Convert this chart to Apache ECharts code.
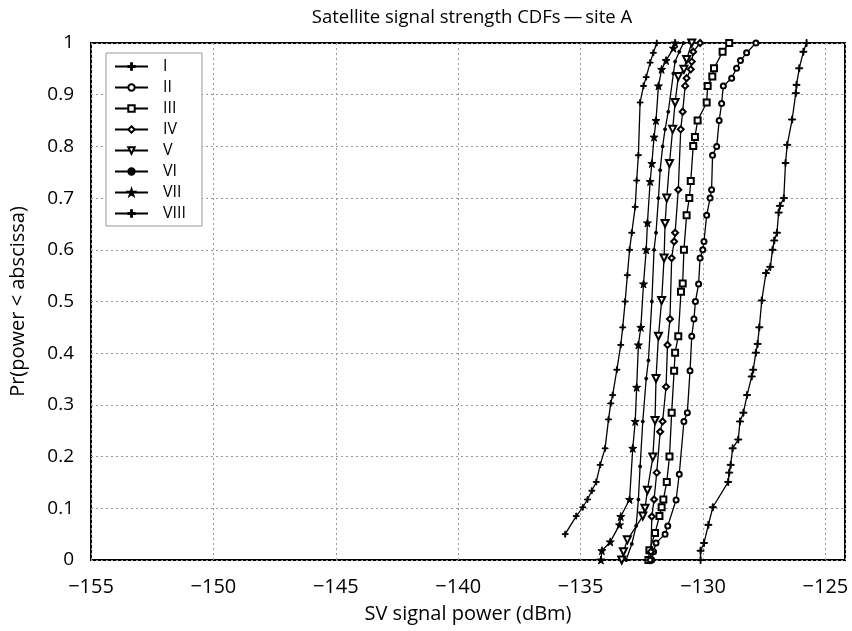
<!DOCTYPE html>
<html>
<head>
    <meta charset="UTF-8">
    <title>Satellite signal strength CDFs</title>
    <script src="https://cdn.jsdelivr.net/npm/echarts@6/dist/echarts.min.js"></script>
    <style>
        body { margin: 0; background: #fff; }
        #container { width: 852px; height: 631px; }
    </style>
</head>
<body>
<div id="container"></div>
<script>
    // series names (legend) and the [power dBm, probability] points
    var names = ['I', 'II', 'III', 'IV', 'V', 'VI', 'VII', 'VIII'];

    var svI = [[-130.1, 0], [-130.1, 0.018], [-129.96, 0.033], [-129.78, 0.068], [-129.6, 0.102], [-128.97, 0.151],
        [-128.93, 0.169], [-128.87, 0.184], [-128.79, 0.216], [-128.56, 0.233], [-128.49, 0.268], [-128.35, 0.285],
        [-128.2, 0.319], [-128.01, 0.355], [-127.95, 0.368], [-127.84, 0.401], [-127.77, 0.418], [-127.7, 0.45],
        [-127.6, 0.502], [-127.43, 0.555], [-127.25, 0.567], [-127.16, 0.6], [-127.09, 0.618], [-126.98, 0.633],
        [-126.91, 0.672], [-126.86, 0.685], [-126.7, 0.7], [-126.63, 0.768], [-126.56, 0.803], [-126.36, 0.852],
        [-126.21, 0.903], [-126.18, 0.919], [-126.07, 0.951], [-125.9, 0.983], [-125.77, 1.0]];
    var svII = [[-132.09, 0], [-132.02, 0.016], [-131.92, 0.033], [-131.55, 0.05], [-131.44, 0.066], [-131.1, 0.116],
        [-130.97, 0.166], [-130.78, 0.268], [-130.64, 0.285], [-130.53, 0.366], [-130.46, 0.433], [-130.37, 0.466],
        [-130.31, 0.5], [-130.18, 0.534], [-130.12, 0.584], [-130.01, 0.6], [-129.96, 0.616], [-129.85, 0.667],
        [-129.71, 0.7], [-129.65, 0.716], [-129.61, 0.783], [-129.44, 0.8], [-129.34, 0.85], [-129.24, 0.883],
        [-129.17, 0.917], [-128.83, 0.932], [-128.63, 0.951], [-128.47, 0.966], [-128.22, 0.981], [-127.84, 1.0]];
    var svIII = [[-132.23, 0], [-132.19, 0.019], [-131.96, 0.052], [-131.78, 0.085], [-131.69, 0.102], [-131.62, 0.117],
        [-131.48, 0.151], [-131.37, 0.2], [-131.28, 0.285], [-131.18, 0.366], [-131.14, 0.401], [-131.01, 0.433],
        [-130.9, 0.519], [-130.83, 0.535], [-130.78, 0.6], [-130.67, 0.667], [-130.56, 0.7], [-130.5, 0.733],
        [-130.4, 0.801], [-130.33, 0.818], [-130.22, 0.85], [-129.85, 0.885], [-129.81, 0.917], [-129.62, 0.935],
        [-129.55, 0.951], [-129.2, 0.983], [-128.93, 1.0]];
    var svIV = [[-132.16, 0], [-132.13, 0.016], [-132.09, 0.084], [-132.0, 0.117], [-131.89, 0.169], [-131.75, 0.248],
        [-131.65, 0.268], [-131.51, 0.335], [-131.45, 0.416], [-131.35, 0.466], [-131.28, 0.584], [-131.18, 0.616],
        [-131.14, 0.633], [-131.01, 0.716], [-130.91, 0.833], [-130.83, 0.867], [-130.73, 0.917], [-130.67, 0.932],
        [-130.5, 0.949], [-130.46, 0.964], [-130.4, 0.983], [-130.12, 1.0]];
    var svV = [[-133.32, 0], [-133.25, 0.016], [-133.09, 0.039], [-132.46, 0.085], [-132.37, 0.1], [-132.27, 0.135],
        [-132.05, 0.199], [-131.96, 0.27], [-131.92, 0.351], [-131.82, 0.433], [-131.69, 0.502], [-131.59, 0.584],
        [-131.55, 0.651], [-131.48, 0.7], [-131.37, 0.767], [-131.24, 0.833], [-131.14, 0.885], [-131.01, 0.935],
        [-130.78, 0.949], [-130.67, 0.968], [-130.46, 1.0]];
    var svVI = [[-133.14, 0], [-132.91, 0.031], [-132.73, 0.066], [-132.64, 0.117], [-132.57, 0.181], [-132.46, 0.268],
        [-132.32, 0.351], [-132.23, 0.386], [-132.09, 0.5], [-132.0, 0.6], [-131.92, 0.633], [-131.82, 0.7],
        [-131.75, 0.754], [-131.65, 0.8], [-131.55, 0.833], [-131.42, 0.867], [-131.21, 0.941], [-131.14, 0.964],
        [-130.97, 0.983], [-130.8, 1.0]];
    var svVII = [[-134.17, 0], [-134.13, 0.018], [-133.79, 0.035], [-133.41, 0.068], [-133.36, 0.084], [-133.0, 0.117],
        [-132.87, 0.216], [-132.77, 0.268], [-132.71, 0.334], [-132.64, 0.416], [-132.54, 0.45], [-132.43, 0.534],
        [-132.32, 0.6], [-132.27, 0.652], [-132.16, 0.732], [-132.09, 0.767], [-132.0, 0.818], [-131.92, 0.85],
        [-131.82, 0.917], [-131.69, 0.949], [-131.51, 0.966], [-131.21, 0.99], [-131.14, 1.0]];
    var svVIII = [[-135.63, 0.05], [-135.18, 0.085], [-134.91, 0.102], [-134.72, 0.117], [-134.54, 0.134],
        [-134.36, 0.151], [-134.2, 0.184], [-134.0, 0.216], [-133.86, 0.272], [-133.77, 0.303], [-133.69, 0.319],
        [-133.52, 0.368], [-133.36, 0.416], [-133.28, 0.45], [-133.18, 0.5], [-133.09, 0.551], [-133.0, 0.6],
        [-132.91, 0.633], [-132.77, 0.683], [-132.71, 0.734], [-132.64, 0.783], [-132.57, 0.885], [-132.43, 0.917],
        [-132.32, 0.934], [-132.16, 0.962], [-132.03, 0.981], [-131.89, 1.0]];

    var allData = [svI, svII, svIII, svIV, svV, svVI, svVII, svVIII];

    var plusPath = 'path://M4.3,0H5.7V4.3H10V5.7H5.7V10H4.3V5.7H0V4.3H4.3Z';
    var starPath = 'path://M5,0L6.2,3.6L10,3.6L6.9,5.9L8.1,9.5L5,7.3L1.9,9.5L3.1,5.9L0,3.6L3.8,3.6Z';
    var markers = [
        { symbol: plusPath, size: 7, rotate: 0 },
        { symbol: 'emptyCircle', size: 5, rotate: 0 },
        { symbol: 'emptyRect', size: 6, rotate: 0 },
        { symbol: 'emptyDiamond', size: 6, rotate: 0 },
        { symbol: 'emptyTriangle', size: 7, rotate: 180 },
        { symbol: 'circle', size: 3, rotate: 0 },
        { symbol: starPath, size: 8, rotate: 0 },
        { symbol: plusPath, size: 6, rotate: 0 }
    ];

    var font = '"Open Sans", "DejaVu Sans", sans-serif';
    var series = [];
    for (var i = 0; i < names.length; i++) {
        series.push({
            name: names[i],
            type: 'line',
            data: allData[i],
            symbol: markers[i].symbol,
            symbolSize: markers[i].size,
            symbolRotate: markers[i].rotate,
            showAllSymbol: true,
            lineStyle: { color: '#000', width: 1.3 },
            itemStyle: { color: '#000', borderColor: '#000', borderWidth: 1 },
            emphasis: { disabled: true },
            animation: false
        });
    }

    function minus(v) {
        return String(v).replace('-', '\u2212');
    }

    var mycharts = echarts.init(document.getElementById('container'));
    var option = {
        backgroundColor: '#fff',
        animation: false,
        title: {
            text: 'Satellite signal strength CDFs\u2009\u2014\u2009site A',
            left: 467,
            textAlign: 'center',
            top: 3,
            textStyle: { fontFamily: font, fontSize: 18.5, fontWeight: 'normal', color: '#000' }
        },
        legend: {
            data: names,
            orient: 'vertical',
            left: 106,
            top: 53,
            itemWidth: 33,
            itemHeight: 8,
            itemGap: 4,
            padding: [5, 16, 4, 8],
            backgroundColor: '#fff',
            borderColor: '#999',
            borderWidth: 1,
            textStyle: { fontFamily: font, fontSize: 16, lineHeight: 17, color: '#000', padding: [0, 0, 0, 10] }
        },
        grid: {
            left: 90,
            right: 7,
            top: 43,
            bottom: 71,
            show: true,
            borderColor: '#000',
            borderWidth: 2,
            backgroundColor: '#fff'
        },
        xAxis: {
            type: 'value',
            min: -155,
            max: -124.2,
            interval: 5,
            name: 'SV signal power (dBm)',
            nameLocation: 'middle',
            nameGap: 44,
            nameTextStyle: { fontFamily: font, fontSize: 20, color: '#000' },
            axisLine: { show: false },
            axisTick: { show: false },
            axisLabel: {
                margin: 17,
                fontFamily: font,
                fontSize: 20,
                color: '#000',
                formatter: function (v) { return v % 5 === 0 ? minus(v) : ''; }
            },
            splitLine: { show: true, lineStyle: { color: '#999', type: [2, 3], width: 1 } }
        },
        yAxis: {
            type: 'value',
            min: 0,
            max: 1,
            interval: 0.1,
            name: 'Pr(power < abscissa)',
            nameLocation: 'middle',
            nameGap: 63,
            nameTextStyle: { fontFamily: font, fontSize: 20, color: '#000' },
            axisLine: { show: false },
            axisTick: { show: false },
            axisLabel: { margin: 17, fontFamily: font, fontSize: 19, color: '#000' },
            splitLine: { show: true, lineStyle: { color: '#999', type: [2, 3], width: 1 } }
        },
        series: series
    };
    mycharts.setOption(option);
</script>
</body>
</html>
